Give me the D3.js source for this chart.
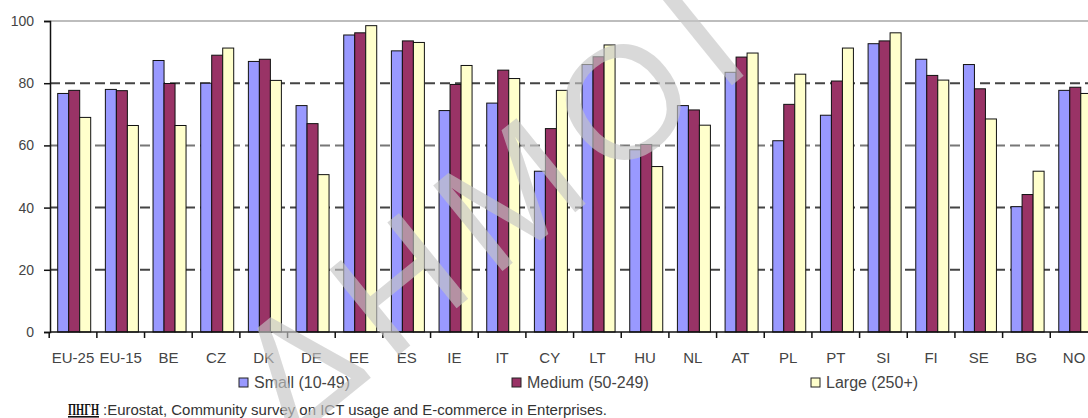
<!DOCTYPE html>
<html>
<head>
<meta charset="utf-8">
<script src="https://cdn.jsdelivr.net/npm/d3@7"></script>
<style>
body { margin: 0; background: #fff; }
text { font-family: Arial, "Liberation Sans", sans-serif; }
</style>
</head>
<body>
<svg id="chart" width="1088" height="418"></svg>
<script>
var categories = ["EU-25", "EU-15", "BE", "CZ", "DK", "DE", "EE", "ES", "IE", "IT", "CY", "LT", "HU", "NL", "AT", "PL", "PT", "SI", "FI", "SE", "BG", "NO"];
var seriesNames = ["Small (10-49)", "Medium (50-249)", "Large (250+)"];
var small  = [76.7, 78, 87.3, 80, 87, 72.8, 95.5, 90.4, 71.2, 73.6, 51.7, 86, 58.6, 72.8, 83.5, 61.5, 69.7, 92.7, 87.7, 86, 40.3, 77.7];
var medium = [77.7, 77.6, 79.9, 89, 87.7, 67, 96.2, 93.6, 79.6, 84.2, 65.4, 88.5, 60.3, 71.4, 88.4, 73.2, 80.7, 93.6, 82.5, 78.2, 44.2, 78.7];
var large  = [69, 66.4, 66.4, 91.3, 80.9, 50.6, 98.5, 93.1, 85.7, 81.5, 77.7, 92.3, 53.2, 66.5, 89.7, 82.9, 91.3, 96.2, 81, 68.5, 51.7, 76.7];
var yTicks = [0, 20, 40, 60, 80, 100];
var colors = ["#9999ff", "#993366", "#ffffcc"];

var svg = d3.select("#chart");

var x = d3.scaleBand().domain(categories).range([49.2, 49.2 + 22 * 47.67]);
var xs = d3.scaleBand().domain(seriesNames).range([8.5, 41.5]);
var y = d3.scaleLinear().domain([0, 100]).range([332, 21]);

// grid lines
svg.selectAll(".grid").data(yTicks.filter(function(d){ return d > 0; })).enter().append("line")
	.attr("x1", 50).attr("x2", 1088)
	.attr("y1", function(d){ return y(d); }).attr("y2", function(d){ return y(d); })
	.attr("stroke", function(d){ return d == 100 ? "#bdbdbd" : (d == 60 ? "#777" : "#444"); })
	.attr("stroke-width", 2)
	.attr("stroke-dasharray", function(d){ return d == 100 ? null : "10,5"; });

var rows = categories.map(function(c, i) { return {cat: c, vals: [small[i], medium[i], large[i]]}; });

var groups = svg.selectAll(".grp").data(rows).enter().append("g")
	.attr("transform", function(d){ return "translate(" + x(d.cat) + ",0)"; });

groups.selectAll("rect").data(function(d){ return d.vals.map(function(v, j){ return {s: seriesNames[j], v: v, j: j}; }); })
	.enter().append("rect")
	.attr("x", function(d){ return xs(d.s); })
	.attr("width", xs.bandwidth())
	.attr("y", function(d){ return y(d.v); })
	.attr("height", function(d){ return y(0) - y(d.v); })
	.attr("fill", function(d){ return colors[d.j]; })
	.attr("stroke", "#111").attr("stroke-width", 1);

// axes
var yAxis = svg.append("g").attr("transform", "translate(50,0)")
	.call(d3.axisLeft(y).tickValues(yTicks).tickSize(6).tickPadding(10));
yAxis.select(".domain").attr("stroke", "#111").attr("stroke-width", 1.5);
yAxis.selectAll("text").style("font-size", "14px").attr("fill", "#444");
yAxis.selectAll("line").attr("stroke", "#111").attr("stroke-width", 1.5);

var xAxis = svg.append("g").attr("transform", "translate(0," + y(0) + ")")
	.call(d3.axisBottom(x).tickSize(0).tickPadding(0));
xAxis.select(".domain").remove();
xAxis.append("line").attr("x1", 50).attr("x2", 1088).attr("y1", 0).attr("y2", 0).attr("stroke", "#111").attr("stroke-width", 1.5);
xAxis.selectAll(".tick text").attr("y", 31).attr("dy", 0).style("font-size", "15px").attr("fill", "#444");
svg.selectAll(".xtick").data(categories).enter().append("line")
	.attr("x1", function(d){ return x(d); }).attr("x2", function(d){ return x(d); })
	.attr("y1", y(0)).attr("y2", y(0) + 6)
	.attr("stroke", "#111").attr("stroke-width", 1.5);

// legend
var legendX = [239, 512, 811];
var legend = svg.selectAll(".leg").data(seriesNames).enter().append("g")
	.attr("transform", function(d, i){ return "translate(" + legendX[i] + ",378)"; });
legend.append("rect").attr("width", 9).attr("height", 9)
	.attr("fill", function(d, i){ return colors[i]; }).attr("stroke", "#222");
legend.append("text").attr("x", 15).attr("y", 10).style("font-size", "16px").attr("fill", "#444")
	.text(function(d){ return d; });

// source
svg.append("text").attr("x", 68).attr("y", 415)
	.style("font-family", "'Liberation Serif', 'DejaVu Serif', serif").style("font-weight", "bold")
	.style("font-size", "16px").attr("text-decoration", "underline").attr("fill", "#111")
	.attr("textLength", 31).attr("lengthAdjust", "spacingAndGlyphs").text("ΠΗΓΗ");
svg.append("text").attr("x", 103).attr("y", 415).style("font-size", "14px").attr("fill", "#333")
	.attr("textLength", 504).attr("lengthAdjust", "spacingAndGlyphs")
	.text(":Eurostat, Community survey on ICT usage and E-commerce in Enterprises.");

// watermark
svg.append("text").attr("transform", "translate(495,205) rotate(-39)")
	.attr("text-anchor", "middle").attr("dy", "0.35em")
	.style("font-size", "160px").style("letter-spacing", "18px")
	.attr("fill", "#c4c4c4").attr("fill-opacity", 0.65)
	.text("ΔΗΜΟΙ");
</script>
</body>
</html>
